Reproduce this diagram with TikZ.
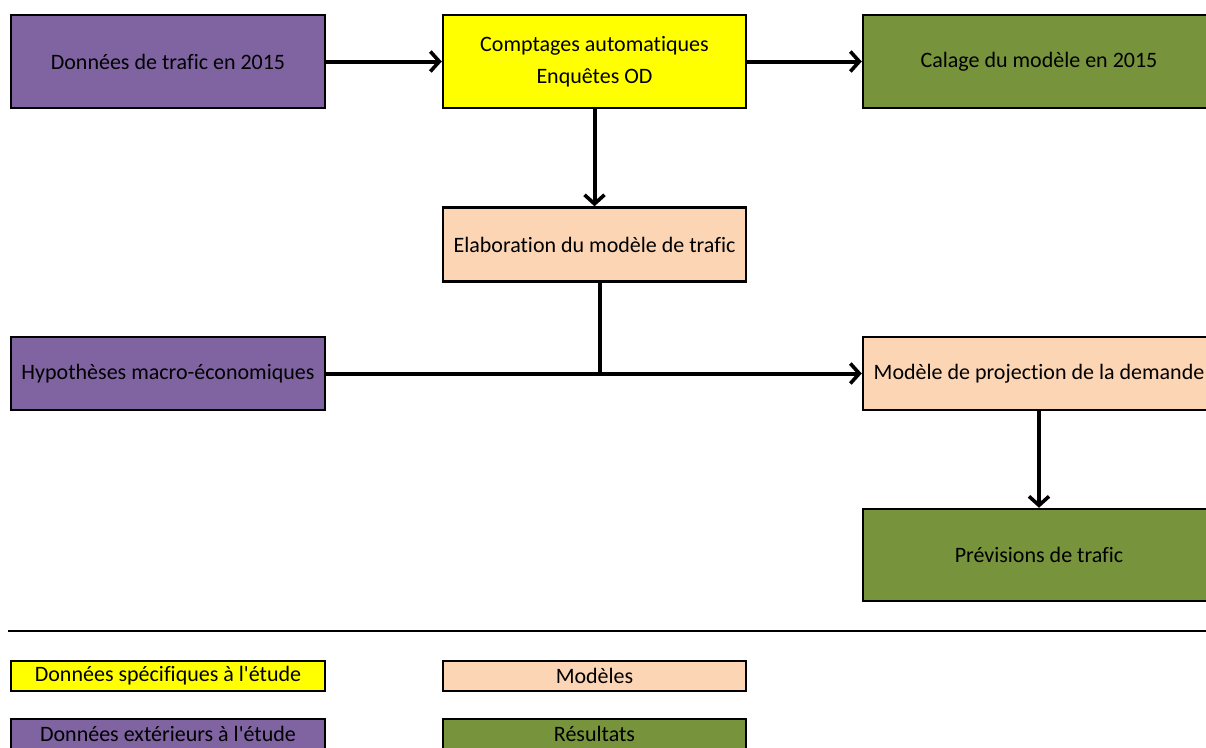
\documentclass[tikz,border=0pt]{standalone}
\usepackage{fontspec}
\setmainfont{Carlito}[Ligatures=NoCommon]
\usetikzlibrary{arrows.meta}
\definecolor{violet}{HTML}{8064A2}
\definecolor{jaune}{HTML}{FFFF00}
\definecolor{peche}{HTML}{FCD5B5}
\definecolor{vert}{HTML}{77933C}
\begin{document}
\begin{tikzpicture}[x=1pt, y=-1pt,
  boite/.style={draw, line width=2.5pt, inner sep=0pt, align=center,
    font=\fontsize{22}{32}\selectfont},
  fleche/.style={line width=4pt, -{Straight Barb[length=9pt,width=20pt,line width=3.6pt]}},
  trait/.style={line width=4pt}]
\useasboundingbox (0,0) rectangle (1206,747);
\clip (0,0) rectangle (1206,747);
\node[boite, fill=violet, minimum width=314pt, minimum height=93pt] (don) at (168,61.5){Données de trafic en 2015};
\node[boite, fill=jaune, minimum width=303pt, minimum height=93pt] (cpt) at (594.5,61.5){Comptages automatiques\\Enquêtes OD};
\node[boite, fill=vert, minimum width=352pt, minimum height=93pt] (cal) at (1039,61.5){Calage du modèle en 2015};
\draw[fleche](don) -- (cpt);
\draw[fleche](cpt) -- (cal);
\node[boite, fill=peche, minimum width=303pt, minimum height=74pt] (elab) at (594.5,244.5){Elaboration du modèle de trafic};
\draw[fleche](cpt) -- (elab);
\node[boite, fill=violet, minimum width=314pt, minimum height=73pt] (hyp) at (168,373.5){Hypothèses macro-économiques};
\node[boite, fill=peche, minimum width=352pt, minimum height=73pt] (proj) at (1039,373.5){Modèle de projection de la demande};
\coordinate (jct) at (600,373.5);
\draw[trait](elab.south -| jct) -- (jct);
\draw[fleche](hyp) -- (proj);
\node[boite, fill=vert, minimum width=352pt, minimum height=92pt] (prev) at (1039,555){Prévisions de trafic};
\draw[fleche](proj) -- (prev);
% legende
\coordinate (sepg) at (8,631);
\coordinate (sepd) at (1210,631);
\draw[line width=2.5pt](sepg) -- (sepd);
\node[boite, fill=jaune, minimum width=314pt, minimum height=30pt] (leg0) at (168,676){Données spécifiques à l\textquotesingle étude};
\node[boite, fill=peche, minimum width=303pt, minimum height=30pt] (leg1) at (594.5,676){Modèles};
\node[boite, fill=violet, minimum width=314pt, minimum height=30pt] (leg2) at (168,734){Données extérieurs à l\textquotesingle étude};
\node[boite, fill=vert, minimum width=303pt, minimum height=30pt] (leg3) at (594.5,734){Résultats};
\end{tikzpicture}
\end{document}
